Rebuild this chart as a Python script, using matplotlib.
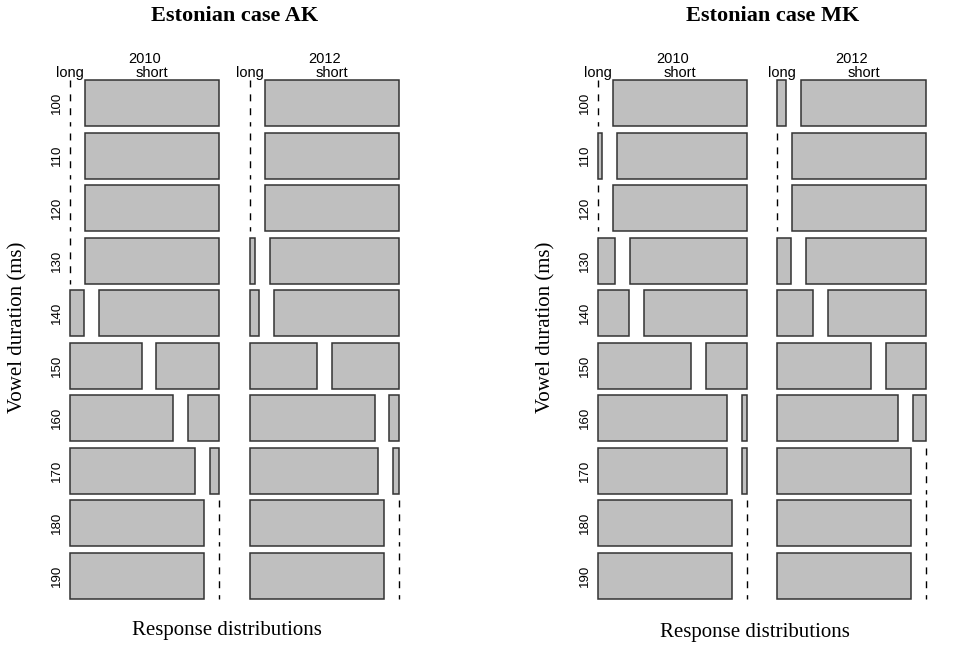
import matplotlib
matplotlib.use("Agg")
import matplotlib.pyplot as plt
from matplotlib.patches import Rectangle

durations = [100, 110, 120, 130, 140, 150, 160, 170, 180, 190]
years = ["2010", "2012"]
responses = ["long", "short"]

ak_long_2010 = [0.0, 0.0, 0.0, 0.0, 0.107, 0.534, 0.765, 0.93, 1.0, 1.0]
ak_long_2012 = [0.0, 0.0, 0.0, 0.04, 0.07, 0.50, 0.928, 0.957, 1.0, 1.0]
mk_long_2010 = [0.0, 0.032, 0.0, 0.13, 0.234, 0.696, 0.965, 0.965, 1.0, 1.0]
mk_long_2012 = [0.068, 0.0, 0.0, 0.10, 0.265, 0.70, 0.90, 1.0, 1.0, 1.0]

FILL = "#bfbfbf"
EDGE = "#333333"
GAP_IN = 0.11    # gap between long/short inside a year column
GAP_YEAR = 0.23  # gap between the 2010 and 2012 columns
GAP_ROW = 0.13   # gap between duration rows
DASH = (0, (5, 5))

plt.rcParams["font.family"] = ["Liberation Sans", "DejaVu Sans"]


def draw_mosaic(ax, long_2010, long_2012):
    col_w = 1 + GAP_IN
    for j, shares in enumerate([long_2010, long_2012]):
        x0 = j * (col_w + GAP_YEAR)
        for i, p in enumerate(shares):
            y0 = i * (1 + GAP_ROW)
            # long part (dashed line when empty)
            if p > 0:
                ax.add_patch(Rectangle((x0, y0), p, 1, facecolor=FILL,
                                       edgecolor=EDGE, lw=1.1, clip_on=False))
            else:
                ax.plot([x0, x0], [y0, y0 + 1], color="black", lw=1,
                        ls=DASH, clip_on=False)
            # short part
            xs = x0 + p + GAP_IN
            if p < 1:
                ax.add_patch(Rectangle((xs, y0), 1 - p, 1, facecolor=FILL,
                                       edgecolor=EDGE, lw=1.1, clip_on=False))
            else:
                ax.plot([xs, xs], [y0, y0 + 1], color="black", lw=1,
                        ls=DASH, clip_on=False)
        # column labels, placed from the top row like R's mosaicplot
        p0 = shares[0]
        tr = ax.get_xaxis_transform()
        ax.text(x0 + col_w / 2, 1 + 21 / 519, years[j], transform=tr,
                ha="center", va="center", fontsize=10.5)
        ax.text(x0 + p0 / 2, 1 + 7.5 / 519, responses[0], transform=tr,
                ha="center", va="center", fontsize=10.5)
        ax.text(x0 + p0 + GAP_IN + (1 - p0) / 2, 1 + 7.5 / 519, responses[1],
                transform=tr, ha="center", va="center", fontsize=10.5)

    n = len(long_2010)
    ax.set_xlim(0, 2 * col_w + GAP_YEAR)
    ax.set_ylim(n + (n - 1) * GAP_ROW, 0)
    ax.set_yticks([i * (1 + GAP_ROW) + 0.5 for i in range(n)])
    ax.set_yticklabels([str(d) for d in durations], rotation=90,
                       va="center", fontsize=9.5)
    ax.tick_params(axis="y", length=0, pad=5)
    ax.set_xticks([])
    for s in ax.spines.values():
        s.set_visible(False)


W, H = 963, 646
fig = plt.figure(figsize=(W / 100, H / 100), dpi=100)

ax1 = fig.add_axes([70 / W, 1 - 599 / H, 329 / W, 519 / H])
draw_mosaic(ax1, ak_long_2010, ak_long_2012)
ax2 = fig.add_axes([598 / W, 1 - 599 / H, 328 / W, 519 / H])
draw_mosaic(ax2, mk_long_2010, mk_long_2012)

serif = ["Liberation Serif", "DejaVu Serif"]
fig.text(235 / W, 1 - 16 / H, "Estonian case AK", family=serif,
         weight="bold", fontsize=16, ha="center", va="center")
fig.text(773 / W, 1 - 16 / H, "Estonian case MK", family=serif,
         weight="bold", fontsize=16, ha="center", va="center")
fig.text(18 / W, 1 - 327 / H, "Vowel duration (ms)", family=serif,
         fontsize=15, rotation=90, ha="center", va="center")
fig.text(546 / W, 1 - 327 / H, "Vowel duration (ms)", family=serif,
         fontsize=15, rotation=90, ha="center", va="center")
fig.text(227 / W, 1 - 631 / H, "Response distributions", family=serif,
         fontsize=15, ha="center", va="center")
fig.text(755 / W, 1 - 632 / H, "Response distributions", family=serif,
         fontsize=15, ha="center", va="center")

fig.savefig("out.png", dpi=100)
